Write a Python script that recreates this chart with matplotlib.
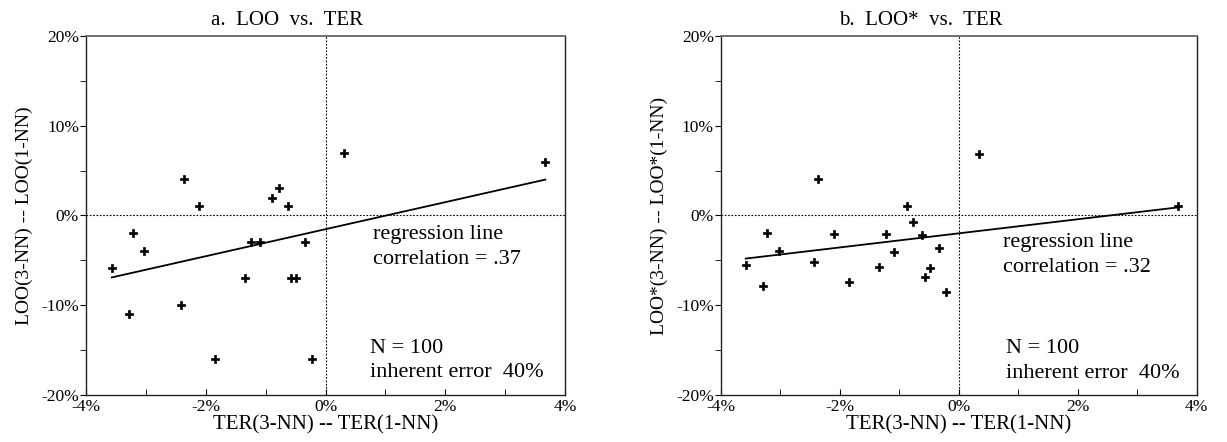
import matplotlib
matplotlib.use("Agg")
import matplotlib.pyplot as plt
from matplotlib.ticker import MultipleLocator, FuncFormatter

plt.rcParams["font.family"] = ["Liberation Serif", "DejaVu Serif"]

# panel a: LOO vs. TER (values in %)
ter_a = [-3.57, -3.29, -3.21, -3.03, -2.42, -2.37, -2.11, -1.85, -1.34, -1.25,
         -1.10, -0.89, -0.77, -0.63, -0.58, -0.50, -0.35, -0.23, 0.31, 3.67]
loo_a = [-5.9, -11.0, -2.0, -4.0, -10.0, 4.1, 1.1, -16.0, -7.0, -3.0,
         -3.0, 2.0, 3.1, 1.1, -7.0, -7.0, -3.0, -16.0, 7.0, 6.0]
reg_x_a = [-3.57, 3.67]
reg_y_a = [-6.9, 4.0]

# panel b: LOO* vs. TER
ter_b = [-3.58, -3.29, -3.22, -3.02, -2.43, -2.37, -2.10, -1.84, -1.34, -1.23,
         -1.09, -0.87, -0.77, -0.62, -0.57, -0.49, -0.33, -0.22, 0.34, 3.68]
loo_b = [-5.5, -7.9, -2.0, -3.9, -5.2, 4.1, -2.1, -7.4, -5.7, -2.1,
         -4.1, 1.1, -0.7, -2.2, -6.9, -5.9, -3.6, -8.5, 6.9, 1.1]
reg_x_b = [-3.58, 3.68]
reg_y_b = [-4.8, 0.9]

titles = ["a.  LOO  vs.  TER", "b.  LOO*  vs.  TER"]
ylabels = ["LOO(3-NN) -- LOO(1-NN)", "LOO*(3-NN) -- LOO*(1-NN)"]
xlabel = "TER(3-NN) -- TER(1-NN)"
correlations = [".37", ".32"]

fig = plt.figure(figsize=(12.27, 4.42), dpi=100)
ax_a = fig.add_axes([0.0701, 0.1063, 0.3904, 0.8123])
ax_b = fig.add_axes([0.5874, 0.1063, 0.3879, 0.8123])

pct = FuncFormatter(lambda v, pos: f"{v:.0f}%")

# (axes, x, y, reg x, reg y, regression text x / baselines, N text x / baselines)
panels = [
    (ax_a, ter_a, loo_a, reg_x_a, reg_y_a, 0.79, (-2.62, -5.40), 0.75, (-15.3, -18.0)),
    (ax_b, ter_b, loo_b, reg_x_b, reg_y_b, 0.74, (-3.51, -6.30), 0.80, (-15.3, -18.1)),
]

for i, (ax, x, y, rx, ry, rtx, rty, ntx, nty) in enumerate(panels):
    ax.axhline(0, color="black", linestyle=(0, (1.5, 1.5)), linewidth=0.8)
    ax.axvline(0, color="black", linestyle=(0, (1.5, 1.5)), linewidth=0.8)
    ax.plot(rx, ry, color="black", linewidth=1.3)
    ax.plot(x, y, linestyle="none", marker="P", markersize=6,
            color="black", markeredgecolor="black", markeredgewidth=0.5)

    ax.set_xlim(-4, 4)
    ax.set_ylim(-20, 20)
    ax.xaxis.set_major_locator(MultipleLocator(2))
    ax.xaxis.set_minor_locator(MultipleLocator(1))
    ax.yaxis.set_major_locator(MultipleLocator(10))
    ax.yaxis.set_minor_locator(MultipleLocator(5))
    ax.xaxis.set_major_formatter(pct)
    ax.yaxis.set_major_formatter(pct)
    ax.tick_params(axis="x", which="both", direction="in", length=4,
                   labelsize=12.5, pad=3)
    ax.tick_params(axis="y", which="both", direction="out", length=4,
                   labelsize=12.5, pad=1)
    for s in ax.spines.values():
        s.set_linewidth(1.0)
        s.set_color("#222222")
    ax.spines["top"].set_color("#666666")
    ax.spines["top"].set_linewidth(1.3)

    ax.text(0.42, 1.031, titles[i], transform=ax.transAxes, fontsize=15,
            ha="center", va="baseline")
    ax.set_xlabel(xlabel, fontsize=15, labelpad=0)
    ax.set_ylabel(ylabels[i], fontsize=14, labelpad=6)

    ax.text(rtx, rty[0], "regression line", fontsize=16, va="baseline", ha="left")
    ax.text(rtx, rty[1], f"correlation = {correlations[i]}", fontsize=16,
            va="baseline", ha="left")
    ax.text(ntx, nty[0], "N = 100", fontsize=16, va="baseline", ha="left")
    ax.text(ntx, nty[1], "inherent error  40%", fontsize=16,
            va="baseline", ha="left")

fig.savefig("out.png", dpi=100)
